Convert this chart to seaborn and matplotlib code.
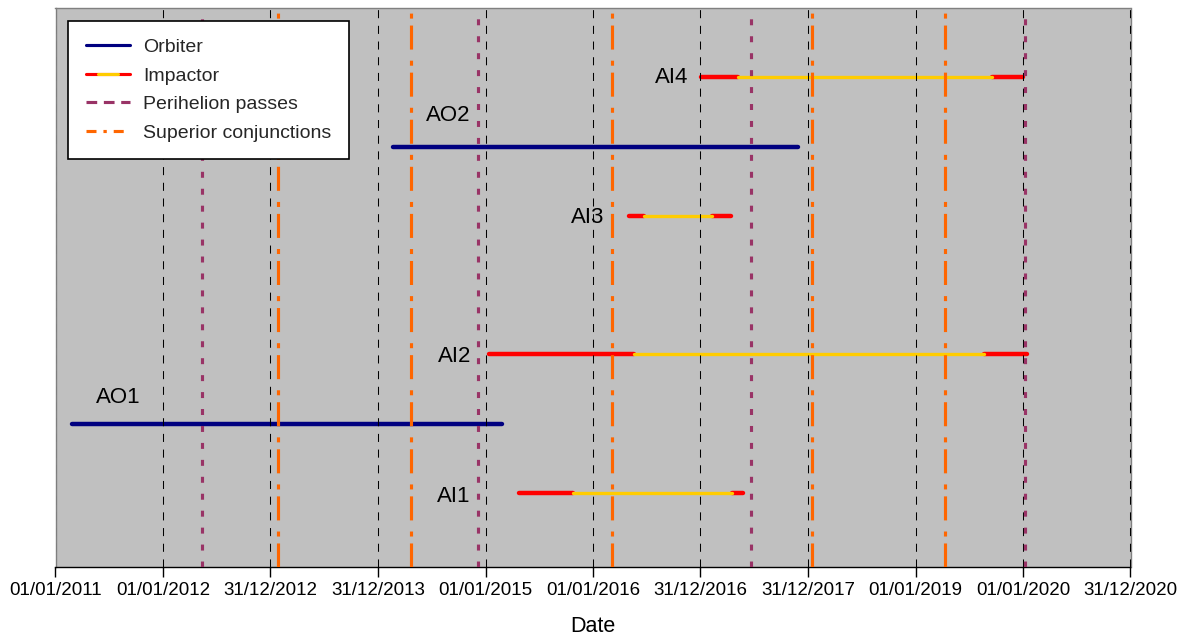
import pandas as pd
import matplotlib
matplotlib.use("Agg")
import matplotlib.pyplot as plt
import seaborn as sns
from matplotlib.lines import Line2D
from matplotlib.legend_handler import HandlerBase

# --------------------------------------------------
# DATA
# --------------------------------------------------

tick_labels = [
    "01/01/2011", "01/01/2012", "31/12/2012", "31/12/2013", "01/01/2015",
    "01/01/2016", "31/12/2016", "31/12/2017", "01/01/2019", "01/01/2020",
    "31/12/2020"
]

orbiter_names = ["AO1", "AO2"]
orbiter_start = ["2011-02-27", "2014-02-20"]
orbiter_end = ["2015-02-26", "2017-11-28"]
orbiter_level = [2, 6]

impactor_names = ["AI1", "AI2", "AI3", "AI4"]
impactor_launch = ["2015-04-24", "2015-01-14", "2016-05-02", "2017-01-02"]
impactor_cruise_start = ["2015-10-25", "2016-05-18", "2016-06-23", "2017-05-08"]
impactor_cruise_end = ["2017-04-18", "2019-08-21", "2017-02-09", "2019-09-19"]
impactor_end = ["2017-05-25", "2020-01-13", "2017-04-14", "2020-01-02"]
impactor_level = [1, 3, 5, 7]

perihelion_dates = ["2012-05-11", "2014-12-06", "2017-06-21", "2020-01-09"]
conjunction_dates = ["2013-01-25", "2014-04-22", "2016-03-06", "2018-01-15", "2019-04-12"]

label_names = ["AO1", "AO2", "AI1", "AI2", "AI3", "AI4"]
label_dates = ["2011-05-20", "2014-06-12", "2014-07-20", "2014-07-23", "2015-10-18", "2016-07-30"]
label_levels = [2.38, 6.45, 0.95, 2.97, 4.98, 7.0]

# --------------------------------------------------
# STYLE
# --------------------------------------------------

NAVY = "#000080"
RED = "#FF0000"
GOLD = "#FFCC00"
PURPLE = "#993366"
ORANGE = "#FF6600"

sns.set_theme(style="white")
plt.rcParams["font.family"] = ["Liberation Sans", "DejaVu Sans"]
plt.rcParams["lines.scale_dashes"] = False

# --------------------------------------------------
# SEGMENTS TABLE
# --------------------------------------------------

rows = []
for n, s, e, lv in zip(orbiter_names, orbiter_start, orbiter_end, orbiter_level):
    rows += [(n, "orbiter", s, lv), (n, "orbiter", e, lv)]

for n, a, b, c, d, lv in zip(impactor_names, impactor_launch, impactor_cruise_start,
                             impactor_cruise_end, impactor_end, impactor_level):
    rows += [(n + "_a", "red", a, lv), (n + "_a", "red", b, lv)]
    rows += [(n + "_b", "red", c, lv), (n + "_b", "red", d, lv)]
    rows += [(n + "_c", "cruise", b, lv), (n + "_c", "cruise", c, lv)]

seg = pd.DataFrame(rows, columns=["unit", "phase", "date", "level"])
seg["date"] = pd.to_datetime(seg["date"])

# --------------------------------------------------
# PLOT
# --------------------------------------------------

fig = plt.figure(figsize=(11.85, 6.37), dpi=100)
ax = fig.add_axes([55.5 / 1185, 70 / 637, 1075 / 1185, 559 / 637])
ax.set_facecolor("#C0C0C0")

for phase, color, lw in [("orbiter", NAVY, 3.2), ("red", RED, 3.2), ("cruise", GOLD, 2.4)]:
    sns.lineplot(
        data=seg[seg["phase"] == phase],
        x="date", y="level", units="unit", estimator=None, sort=False,
        color=color, lw=lw, solid_capstyle="round", legend=False, ax=ax
    )

for d in perihelion_dates:
    ax.axvline(pd.Timestamp(d), color=PURPLE, lw=2.25,
               linestyle=(0, (4.3, 7.9)), zorder=4)

for d in conjunction_dates:
    ax.axvline(pd.Timestamp(d), color=ORANGE, lw=2.25,
               linestyle=(0, (17.3, 5, 3.6, 8)), zorder=4)

for name, d, lv in zip(label_names, label_dates, label_levels):
    ax.text(pd.Timestamp(d), lv, name, ha="left", va="center",
            fontsize=16, color="black", zorder=5)

# axes
ticks = pd.to_datetime(tick_labels, format="%d/%m/%Y")
ax.set_xlim(ticks[0], ticks[-1])
ax.set_ylim(-0.07, 8.0)
ax.set_xticks(ticks)
ax.set_xticklabels(tick_labels)
ax.set_yticks([])
ax.set_ylabel("")
ax.set_xlabel("Date", fontsize=15.5, labelpad=12, color="black")

ax.grid(axis="x", color="black", lw=0.75, linestyle=(0, (5.8, 5.5)))
ax.set_axisbelow(False)

ax.tick_params(axis="x", direction="out", length=7, width=1, color="black",
               pad=4, labelsize=13.5, labelcolor="black", bottom=True)

for side in ["top", "left", "right"]:
    ax.spines[side].set_color("#808080")
    ax.spines[side].set_linewidth(1)
ax.spines["bottom"].set_color("black")
ax.spines["bottom"].set_linewidth(1)

# --------------------------------------------------
# LEGEND
# --------------------------------------------------


class ImpactorHandler(HandlerBase):
    def create_artists(self, legend, orig_handle, xdescent, ydescent,
                       width, height, fontsize, trans):
        y = height / 2 - ydescent
        x0 = -xdescent
        x1 = width - xdescent
        red = Line2D([x0, x1], [y, y], color=RED, lw=2.25)
        gold = Line2D([x0 + 0.27 * width, x1 - 0.27 * width], [y, y], color=GOLD, lw=2.25)
        red.set_transform(trans)
        gold.set_transform(trans)
        return [red, gold]


h_orb = Line2D([], [], color=NAVY, lw=2.25)
h_imp = Line2D([], [], color=RED, lw=2.25)
h_peri = Line2D([], [], color=PURPLE, lw=2.25, linestyle=(0, (7.7, 4.8)))
h_conj = Line2D([], [], color=ORANGE, lw=2.25, linestyle=(0, (7.2, 5, 2.4, 5)))

leg = ax.legend(
    [h_orb, h_imp, h_peri, h_conj],
    ["Orbiter", "Impactor", "Perihelion passes", "Superior conjunctions"],
    handler_map={h_imp: ImpactorHandler()},
    loc="upper left", bbox_to_anchor=(12.5 / 1075, 1 - 13 / 559),
    borderaxespad=0, fontsize=14, frameon=True, fancybox=False,
    framealpha=1, edgecolor="black", facecolor="white",
    borderpad=0.9, labelspacing=0.56, handlelength=2.3, handletextpad=0.65
)
leg.get_frame().set_linewidth(1.2)
leg.set_zorder(10)

fig.savefig("out.png", dpi=100)
